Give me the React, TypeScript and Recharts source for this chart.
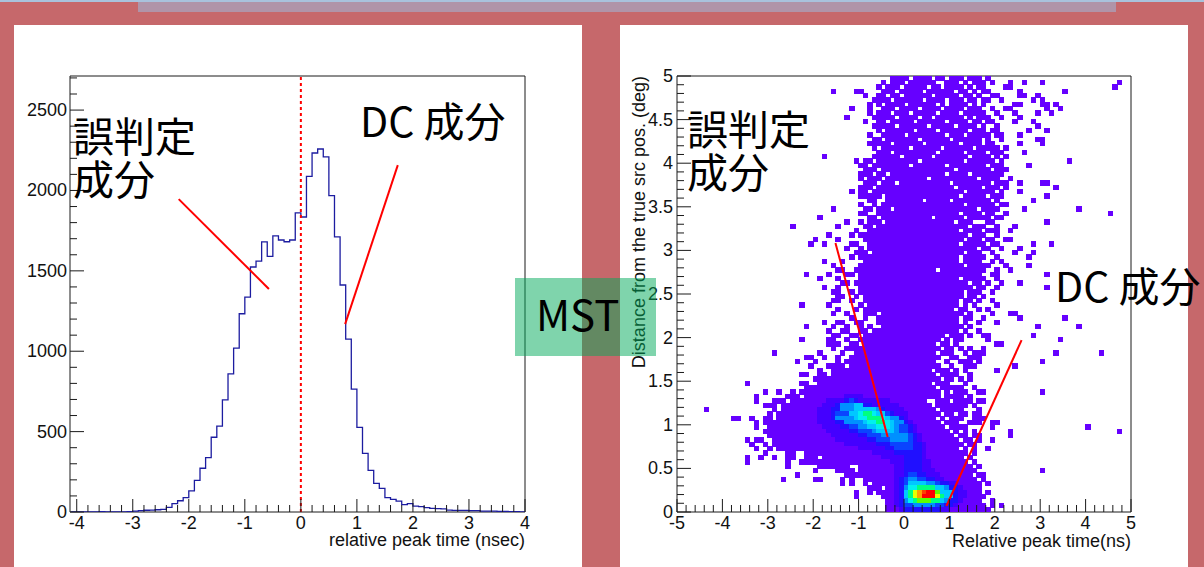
import React from 'react'
import {
  LineChart,
  Line,
  ScatterChart,
  Scatter,
  XAxis,
  YAxis,
  ReferenceLine,
  ReferenceArea,
} from 'recharts'

// ---- 1D histogram: relative peak time, 0.1 ns bins starting at -4.1 ----
const peakBinStart = -4.1
const peakBinWidth = 0.1
const peakTimeCounts = [
  0, 1, 0, 1, 0, 2, 0, 1, 1, 0, 2,
  5, 9, 11, 12, 14, 16, 29, 52, 70, 89,
  131, 197, 272, 338, 465, 534, 697, 859, 1019, 1233,
  1337, 1524, 1561, 1680, 1590, 1717, 1692, 1681, 1692, 1860,
  1835, 2088, 2233, 2258, 2209, 1968, 1711, 1412, 1075, 764,
  527, 365, 259, 178, 147, 89, 79, 68, 46, 52,
  37, 33, 27, 23, 21, 19, 12, 10, 10, 10,
  8, 8, 6, 6, 6, 4, 4, 2, 2, 1,
]
const histXMajor = [-4, -3, -2, -1, 0, 1, 2, 3, 4]
const histYMajor = [0, 500, 1000, 1500, 2000, 2500]

// pointer lines drawn on the histogram (data coordinates)
const histMisidPointer = [{ x: -2.18, y: 1946 }, { x: -0.57, y: 1387 }]
const histDcPointer = [{ x: 1.73, y: 2158 }, { x: 0.79, y: 1169 }]

// ---- 2D histogram: 100 x 100 bins, x -5..5 (0.1), y 0..5 (0.05) ----
// one string per y-row, top row first; "a-b:L" sets columns a..b to colour level L
// (level defaults to 1 = lowest colour)
const rowsTop = [
  '47-50 52-55 57-58 60-62 64-66 68',
  '45 47-49 51-56 59-61 63 65-67 69 73 76 80 97',
  '44 46-48 50-54 56-57 59-62 64 66-67 72-73 96',
  '34 39-40 45-47 49-53 55-60 62-63 65 67-68 75 85',
  '41 44-45 47-48 50-55 57-61 63-64 66 69-70 75-76 79',
  '43-46 48-53 55-58 60-62 64-65 67-68 71 78 80',
  '42 44 46-49 51-56 58 60-63 65 67 74-75 80-81 83',
  '38 42 45-47 49-52 54-57 59-62 64-66 69 72-73 81 84',
  '42 44-46 48-50 52-56 58-61 63-67 70 74 79 82',
  '37 43-47 49-52 54-55 57-62 64 66-68 71 75',
  '41 44-45 47-51 53-58 60-63 65-66 68-69 74 78',
  '43-47 49-54 56-60 62-65 67 70 79',
  '44 46-51 53-56 58-63 65-67 69-70 77 81',
  '42 45-49 51-58 60-62 64-68 70-71 75',
  '43-44 46-52 54-59 61-66 68 71 79-80',
  '42-46 48-53 55-61 63-66 68-69 75 80',
  '43 45-50 52-57 59-64 66-70 72',
  '44-46 48-56 58-62 64-67 69-71 76',
  '32 43-48 50-55 57-63 65-68 70 72',
  '39 41-42 44-52 54-62 64-69 71 86',
  '40-41 43-50 52-58 60-67 69-71 77',
  '41-43 45-60 62-68 70-72',
  '40-42 44-45 47-58 60-63 65-71',
  '40 42-44 46-54 56-65 67-70 73',
  '41-43 45-47 49-59 61-68 70-72 75 80-81',
]
const rowsUpper = [
  '40-42 44-60 62-66 68-70 72 83',
  '38 40-41 43-62 64-69 71 75',
  '40-44 46-61 63-67 69-71 81',
  '42-43 46-53 55-59 61-68 70 78',
  '40 43 45-62 64-69 71-72',
  '34 41-42 44-46 48-65 67-70 76 88',
  '40-41 44-61 63-66 68-69 72 95',
  '31 42-43 45-55 57-62 64-68 70-71',
  '37 40 42-44 46-60 62-64 68-69 81',
  '25 35 41-42 44-63 65-67 70 74',
  '39 42-61 63-66 68-70 73',
  '33 38 40-63 65-67 70',
  '30 35 41-62 64-66 68-69 72-73',
  '29 32 38-39 42-61 63-67 69-70 78 82',
  '37 40 42-65 67-68 71 75',
  '39-41 43-62 64-66 69 74 78',
  '38 40-61 63-67 70 77',
  '32 36 41-61 63-66 69 71',
  '34 40-62 64-68 72 77',
  '35-36 39-56 58-67 70 73',
  '28 33 37-38 40-66 69-70 81',
  '31 35 40-61 63-67 70',
  '36-37 39-63 65-66 68 71 75',
  '32 35 40-64 66-67 70 81',
  '34-35 38 40-62 64-66 69',
]
const rowsLower = [
  '35-36 39 41-62 64-65 67',
  '34-35 38 41-61 63-64 66 69',
  '27 33 40 42-61 63 65 70',
  '35 39 41-60 62-63 66 68',
  '34 37 41-43 45-62 64 69 73-74',
  '38 41 44-61 63-64 67 75 85',
  '32 35-36 39-40 44-61 63 66 70',
  '28 34 37 40 42 45-59 60-62 64 79 88',
  '33 36-37 40-41 43-58 59-61 63 66',
  '34-35 38-39 41-58 60-62 64 67-68 78',
  '27 33-34 37 40-56 57 59 61-62 68 84',
  '33-35 38-39 41-56 58-59 61 70-71',
  '34 37-57 59-60 62 64 67',
  '21 31 36 39-56 58-60 63 65-67 83 93',
  '28-29 32 35 38-57 60-61 64-66',
  '26 30 35 37-56 59 62-64 66 80',
  '29 33-36 38-57 60 63-65 74',
  '31 34-55 57-59 61 63 70',
  '27-28 31-32 34-56 58-61 64',
  '30-57 59-60 62 64',
  '15 27-28 31-55 57-59 63',
  '28-56 58-62 65',
  '19 22 25 27-57 59 61-63 66-67 80',
  '17 24-26 28-57 59-62 64 37-40:2',
  '17 21-23 25-54 57-59 61-64 66-67 33-46:2 37-39:3 38:4',
]
const rowsBottom = [
  '19-21 23-55 57-63 65 32-48:2 35-42:3 36-40:5 39-40:6',
  '6 21 23-56 58-62 66 31-49:2 34-45:3 36-44:5 39-43:6',
  '20 22-57 59-60 62-63 65-66 31-50:2 34-47:3 35-46:4 38-45:6 40-43:7 41-42:8',
  '12-13 16 19-20 22-56 58 60-62 65-67 31-50:2 34-49:3 35-48:5 39-46:6 40-45:7 42-44:8',
  '17 19-57 59-61 64-66 69-70 31-51:2 35-50:3 37-49:5 41-47:6 42-46:7 44-45:8',
  '17 20-58 60-63 69 90 32-52:2 36-51:3 38-50:4 40-48:5 42-47:6 44-46:7',
  '19-59 61 63 65 73 97 33-52:2 38-51:3 40-50:4 43-48:5 44-47:6',
  '20-60 62-63 65-66 73 34-53:2 40-52:3 42-51:4 45-50:5',
  '15 17-18 21-61 63-64 66 69 35-53:2 42-52:3 44-51:4 47-50:5',
  '16 19 21-62 64-65 37-54:2 44-53:3 47-51:4',
  '17 20 22-61 63 65 68 40-54:2 46-53:3 48-51:4',
  '19 24-25 28-63 65 43-54:2 48-53:3',
  '15 18 21 24-25 28-30 32-62 64 45-54:2 50-53:3',
  '15 24 27-63 65 47-55:2 50-53:3',
  '24 31-37 40-64 66 48-55:2 50-53:3',
  '30 35-38 40-65 80 48-56:2 50-53:3',
  '26 37-64 66-67 48-57:2 50-54:3 51-52:4',
  '23 30-31 36 38 41-65 67 48-58:2 49-56:3 50-54:4 51-52:5',
  '36 38 41 43-66 68 48-61:2 49-59:3 50-57:4 51-54:6 55-56:5',
  '42-44 46-66 48-62:2 49-61:3 50-59:5 51-52:7 53-56:8 57-58:6',
  '39 42 44-66 68 48-63:2 49-61:3 50-60:6 51:8 52:10 53:11 54:12 55-56:13 57:9 58-59:6',
  '39 45-67 48-63:2 49-61:3 50-60:6 51:8 52:10 53:11 54-56:13 57:10 58:8 59:6',
  '46-66 69 48-62:2 49-61:3 50-59:5 51:7 52:8 53-55:9 56-57:8 58:6',
  '46-67 69 71 48-61:2 49-60:3 50-58:4 52-56:5',
  '46-68 49-59:2 50-57:3',
]
const mapXMin = -5
const mapBinX = 0.1
const mapBinY = 0.05
const mapXMajor = [-5, -4, -3, -2, -1, 0, 1, 2, 3, 4, 5]
const mapYMajor = [0, 0.5, 1, 1.5, 2, 2.5, 3, 3.5, 4, 4.5, 5]

// colour levels, low -> high
const palette = [
  'none', '#6600ff', '#4400ff', '#2010ff', '#0a44ff', '#0090ff', '#00c8ff',
  '#00f0f0', '#00ff80', '#60ff00', '#e8ff00', '#ffa000', '#ff4000', '#ff0000',
]

const mapMisidPointer = [{ x: -1.51, y: 3.085 }, { x: -0.36, y: 0.86 }]
const mapDcPointer = [{ x: 2.59, y: 1.972 }, { x: 0.934, y: 0.069 }]

// ---- built tables ----
const histData = peakTimeCounts.map((count, i) => ({
  t: +(peakBinStart + i * peakBinWidth).toFixed(2),
  count,
}))
histData.push({ t: 4, count: peakTimeCounts[peakTimeCounts.length - 1] })

const allRows = [...rowsTop, ...rowsUpper, ...rowsLower, ...rowsBottom]
const heatCells: { x: number; y: number; level: number }[] = []
allRows.forEach((spec, i) => {
  const row = allRows.length - 1 - i
  const levels = new Map<number, number>()
  for (const tok of spec.trim().split(/\s+/)) {
    const [range, lv] = tok.split(':')
    const [a, b] = range.split('-').map(Number)
    const level = lv === undefined ? 1 : Number(lv)
    for (let c = a; c <= (b ?? a); c++) levels.set(c, level)
  }
  levels.forEach((level, col) => {
    if (level > 0) {
      heatCells.push({
        x: mapXMin + (col + 0.5) * mapBinX,
        y: (row + 0.5) * mapBinY,
        level,
      })
    }
  })
})

const steps = (from: number, to: number, step: number) => {
  const out: number[] = []
  const n = Math.round((to - from) / step)
  for (let i = 0; i <= n; i++) out.push(+(from + i * step).toFixed(4))
  return out
}

// ---- sizes ----
// axes get 1px of room (recharts skips zero-sized axes), so margins are 1px less
const PANEL_W = 568
const PANEL_H = 542
const histMargin = { top: 51, right: 57, bottom: 54, left: 55 }
const mapMargin = { top: 51, right: 57, bottom: 54, left: 56 }
const MAP_PLOT_W = PANEL_W - mapMargin.left - 1 - mapMargin.right
const MAP_PLOT_H = PANEL_H - mapMargin.top - mapMargin.bottom - 1
const CELL_W = MAP_PLOT_W / 100
const CELL_H = MAP_PLOT_H / 100

const AXIS = '#1a1a1a'
const tickFont: React.CSSProperties = {
  fontFamily: '"Liberation Sans", Arial, sans-serif',
  fontSize: 18,
  fill: '#111',
}
const jpFont = '"Noto Sans CJK JP", "Noto Sans", sans-serif'

type TickOpts = {
  side: 'left' | 'bottom'
  major: number[]
  majorLen: number
  minorLen: number
  gap: number
}
const makeTick = (o: TickOpts) => (props: any) => {
  const { x, y, payload } = props
  const v: number = payload.value
  const isMajor = o.major.some((m) => Math.abs(m - v) < 1e-6)
  const len = isMajor ? o.majorLen : o.minorLen
  const text = `${Math.round(v * 10) / 10}`
  if (o.side === 'left') {
    return (
      <g>
        <line x1={x} y1={y} x2={x + len} y2={y} stroke={AXIS} strokeWidth={1} />
        {isMajor && (
          <text x={x - o.gap} y={y} textAnchor="end" dominantBaseline="central" style={tickFont}>
            {text}
          </text>
        )}
      </g>
    )
  }
  return (
    <g>
      <line x1={x} y1={y} x2={x} y2={y - len} stroke={AXIS} strokeWidth={1} />
      {isMajor && (
        <text x={x} y={y + o.gap} textAnchor="middle" style={tickFont}>
          {text}
        </text>
      )}
    </g>
  )
}

const HeatCell = (props: any) => {
  const { cx, cy, payload } = props
  return (
    <rect
      x={cx - CELL_W / 2 - 0.5}
      y={cy - CELL_H / 2 - 0.5}
      width={CELL_W + 1}
      height={CELL_H + 1}
      fill={palette[payload.level]}
      shapeRendering="crispEdges"
    />
  )
}
const NoPoint = () => <g />

function PeakTimeHistogram() {
  const xTicks = steps(-4, 4, 0.2)
  const yTicks = steps(0, 2700, 100)
  return (
    <LineChart width={PANEL_W} height={PANEL_H} data={histData} margin={histMargin}>
      <Line
        type="stepAfter"
        dataKey="count"
        stroke="#1c1ca0"
        strokeWidth={1.3}
        dot={false}
        isAnimationActive={false}
      />
      <ReferenceLine x={0} stroke="#ff0000" strokeWidth={2} strokeDasharray="3 3" />
      <ReferenceArea x1={-4.12} x2={4} y1={0} y2={2712} fill="none" stroke={AXIS} strokeWidth={1} />
      <XAxis
        dataKey="t"
        type="number"
        domain={[-4.12, 4]}
        allowDataOverflow
        ticks={xTicks}
        interval={0}
        height={1}
        tickSize={0}
        tickMargin={0}
        axisLine={false}
        tickLine={false}
        tick={makeTick({ side: 'bottom', major: histXMajor, majorLen: 13, minorLen: 7, gap: 17 })}
      />
      <YAxis
        type="number"
        domain={[0, 2712]}
        allowDataOverflow
        ticks={yTicks}
        interval={0}
        width={1}
        tickSize={0}
        tickMargin={0}
        axisLine={false}
        tickLine={false}
        tick={makeTick({ side: 'left', major: histYMajor, majorLen: 14, minorLen: 7, gap: 3 })}
      />
      <ReferenceLine segment={histMisidPointer} stroke="#ff0000" strokeWidth={2} />
      <ReferenceLine segment={histDcPointer} stroke="#ff0000" strokeWidth={2} />
    </LineChart>
  )
}

function PeakTimeDistanceMap() {
  const xTicks = steps(-5, 5, 0.2)
  const yTicks = steps(0, 5, 0.1)
  const pointer = { stroke: '#ff0000', strokeWidth: 2 }
  return (
    <ScatterChart width={PANEL_W} height={PANEL_H} margin={mapMargin}>
      <Scatter data={heatCells} shape={HeatCell} isAnimationActive={false} />
      {/* pointer lines go after the cells so they sit on top */}
      <Scatter data={mapMisidPointer} line={pointer} lineType="joint" shape={NoPoint} isAnimationActive={false} />
      <Scatter data={mapDcPointer} line={pointer} lineType="joint" shape={NoPoint} isAnimationActive={false} />
      <ReferenceArea x1={-5} x2={5} y1={0} y2={5} fill="none" stroke={AXIS} strokeWidth={1} />
      <XAxis
        dataKey="x"
        type="number"
        domain={[-5, 5]}
        allowDataOverflow
        ticks={xTicks}
        interval={0}
        height={1}
        tickSize={0}
        tickMargin={0}
        axisLine={false}
        tickLine={false}
        tick={makeTick({ side: 'bottom', major: mapXMajor, majorLen: 13, minorLen: 7, gap: 17 })}
      />
      <YAxis
        dataKey="y"
        type="number"
        domain={[0, 5]}
        allowDataOverflow
        ticks={yTicks}
        interval={0}
        width={1}
        tickSize={0}
        tickMargin={0}
        axisLine={false}
        tickLine={false}
        tick={makeTick({ side: 'left', major: mapYMajor, majorLen: 14, minorLen: 7, gap: 4 })}
      />
    </ScatterChart>
  )
}

export default function App() {
  const bigText = { fontFamily: jpFont, fontSize: 41, fill: '#000' }
  return (
    <div
      style={{
        position: 'absolute',
        left: 0,
        top: 0,
        width: 1204,
        height: 567,
        overflow: 'hidden',
        background: '#c6686b',
      }}
    >
      <div style={{ position: 'absolute', left: 138, top: 0, width: 978, height: 12, background: '#b094a8' }} />
      <div style={{ position: 'absolute', left: 0, top: 0, width: 1204, height: 2, background: '#a9c2dc' }} />

      <div style={{ position: 'absolute', left: 14, top: 25, width: PANEL_W, height: PANEL_H, background: '#fff' }}>
        <PeakTimeHistogram />
      </div>
      <div style={{ position: 'absolute', left: 620, top: 25, width: PANEL_W, height: PANEL_H, background: '#fff' }}>
        <PeakTimeDistanceMap />
      </div>

      <svg
        width={1204}
        height={567}
        style={{ position: 'absolute', left: 0, top: 0, pointerEvents: 'none' }}
      >
        {/* axis titles */}
        <text x={525} y={546} textAnchor="end" style={tickFont}>
          relative peak time (nsec)
        </text>
        <text x={1131} y={547} textAnchor="end" style={tickFont}>
          Relative peak time(ns)
        </text>
        <text x={645} y={76} textAnchor="end" transform="rotate(-90 645 76)" style={tickFont}>
          Distance from the true src pos. (deg)
        </text>

        {/* slide annotations */}
        <text style={bigText}>
          <tspan x={73} y={152}>誤判定</tspan>
          <tspan x={73} y={195}>成分</tspan>
        </text>
        <text x={360} y={137} style={bigText}>DC 成分</text>
        <text style={bigText}>
          <tspan x={687} y={145}>誤判定</tspan>
          <tspan x={687} y={188}>成分</tspan>
        </text>
        <text x={1055} y={302} style={bigText}>DC 成分</text>

        <rect x={515} y={278} width={141} height={78} fill="rgba(0,170,90,0.5)" />
        <text x={536} y={331} style={{ fontFamily: jpFont, fontSize: 42, fill: '#000' }}>
          MST
        </text>
      </svg>
    </div>
  )
}
